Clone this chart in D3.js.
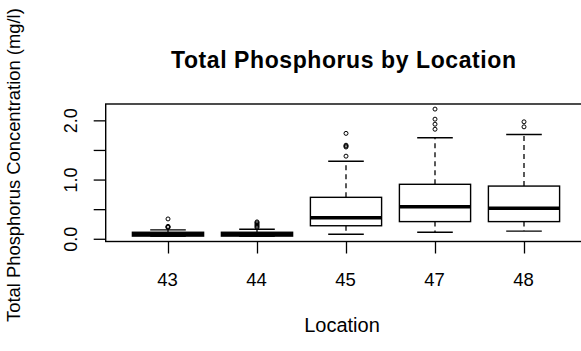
<!DOCTYPE html>
<html>
<head>
<meta charset="utf-8">
<script src="https://cdn.jsdelivr.net/npm/d3@7"></script>
<style>
  html, body { margin: 0; padding: 0; background: #fff; }
  svg { display: block; }
  text { font-family: "Liberation Sans", Arial, sans-serif; fill: #000; }
</style>
</head>
<body>
<svg id="chart" width="581" height="351"></svg>
<script>
// Box-plot summary per sampling location (mg/l)
const locations    = ["43", "44", "45", "47", "48"];
const lowerWhisker = [0.04, 0.04, 0.076, 0.11, 0.13];
const q1           = [0.045, 0.045, 0.22, 0.29, 0.29];
const median       = [0.075, 0.075, 0.355, 0.54, 0.515];
const q3           = [0.11, 0.11, 0.70, 0.92, 0.89];
const upperWhisker = [0.15, 0.16, 1.31, 1.705, 1.76];
const outliers     = [
  [0.19, 0.20, 0.21, 0.335],
  [0.19, 0.21, 0.23, 0.25, 0.27, 0.285],
  [1.395, 1.55, 1.565, 1.58, 1.78],
  [1.85, 1.935, 2.02, 2.19],
  [1.89, 1.975]
];
const yTicks      = [0, 0.5, 1.0, 1.5, 2.0];
const yTickLabels = ["0.0", "", "1.0", "", "2.0"];

const chartTitle = "Total Phosphorus by Location";
const xTitle = "Location";
const yTitle = "Total Phosphorus Concentration (mg/l)";

const svg = d3.select("#chart");
const plot = { left: 105.7, right: 586.3, top: 104, bottom: 241.5 };

// R-style axis extents: groups at 1..n, limits 0.5..n+0.5 padded by 4%
const n = locations.length;
const xPad = 0.04 * n;
const x = d3.scaleLinear()
  .domain([0.5 - xPad, n + 0.5 + xPad])
  .range([plot.left, plot.right]);

const allVals = lowerWhisker.concat(upperWhisker, outliers.flat());
const yMin = d3.min(allVals), yMax = d3.max(allVals);
const yPad = 0.04 * (yMax - yMin);
const y = d3.scaleLinear()
  .domain([yMin - yPad, yMax + yPad])
  .range([plot.bottom, plot.top]);

const boxHalf = 0.4;     // half box width in group units
const stapleHalf = 0.2;  // half whisker-cap width

const g = svg.append("g");

locations.forEach((loc, i) => {
  const cx = x(i + 1);
  const grp = g.append("g").attr("class", "box");

  // dashed whiskers
  [[q3[i], upperWhisker[i]], [q1[i], lowerWhisker[i]]].forEach(([a, b]) => {
    grp.append("line")
      .attr("x1", cx).attr("x2", cx)
      .attr("y1", y(a)).attr("y2", y(b))
      .attr("stroke", "#000").attr("stroke-width", 1.3)
      .attr("stroke-dasharray", "5,4");
  });
  // whisker caps
  [upperWhisker[i], lowerWhisker[i]].forEach(v => {
    grp.append("line")
      .attr("x1", x(i + 1 - stapleHalf)).attr("x2", x(i + 1 + stapleHalf))
      .attr("y1", y(v)).attr("y2", y(v))
      .attr("stroke", "#000").attr("stroke-width", 1.4);
  });
  // box
  grp.append("rect")
    .attr("x", x(i + 1 - boxHalf))
    .attr("y", y(q3[i]))
    .attr("width", x(i + 1 + boxHalf) - x(i + 1 - boxHalf))
    .attr("height", y(q1[i]) - y(q3[i]))
    .attr("fill", "#fff")
    .attr("stroke", "#000").attr("stroke-width", 1.4);
  // median
  grp.append("line")
    .attr("x1", x(i + 1 - boxHalf)).attr("x2", x(i + 1 + boxHalf))
    .attr("y1", y(median[i])).attr("y2", y(median[i]))
    .attr("stroke", "#000").attr("stroke-width", 3.5);
  // outliers
  grp.selectAll("circle")
    .data(outliers[i])
    .join("circle")
    .attr("cx", cx)
    .attr("cy", d => y(d))
    .attr("r", 2)
    .attr("fill", "none")
    .attr("stroke", "#000").attr("stroke-width", 1);
});

// plot frame
svg.append("rect")
  .attr("x", plot.left).attr("y", plot.top)
  .attr("width", plot.right - plot.left)
  .attr("height", plot.bottom - plot.top)
  .attr("fill", "none").attr("stroke", "#000").attr("stroke-width", 1.4);

// x axis
const xAxis = d3.axisBottom(x)
  .tickValues(d3.range(1, n + 1))
  .tickFormat(d => locations[d - 1])
  .tickSize(12).tickPadding(20);
const xg = svg.append("g")
  .attr("transform", `translate(0,${plot.bottom})`)
  .call(xAxis);
xg.select(".domain").remove();
xg.selectAll(".tick line").attr("stroke", "#000").attr("stroke-width", 1.3);
xg.selectAll(".tick text")
  .attr("font-size", 18.5).attr("font-family", "Liberation Sans, Arial, sans-serif")
  .attr("dy", null).attr("y", 285.7 - plot.bottom)
  .attr("dx", -1);

// y axis
const yAxis = d3.axisLeft(y)
  .tickValues(yTicks)
  .tickFormat((d, i) => yTickLabels[i])
  .tickSize(12);
const yg = svg.append("g")
  .attr("transform", `translate(${plot.left},0)`)
  .call(yAxis);
yg.select(".domain").remove();
yg.selectAll(".tick line").attr("stroke", "#000").attr("stroke-width", 1.3);
yg.selectAll(".tick text")
  .attr("font-size", 18).attr("font-family", "Liberation Sans, Arial, sans-serif")
  .attr("x", null).attr("dy", null)
  .attr("text-anchor", "middle")
  .attr("transform", `translate(${77 - plot.left},0) rotate(-90)`);

// titles
svg.append("text")
  .attr("x", 343.5).attr("y", 68.3)
  .attr("text-anchor", "middle")
  .attr("font-size", 23).attr("font-weight", "bold")
  .attr("textLength", 345).attr("lengthAdjust", "spacing")
  .text(chartTitle);

svg.append("text")
  .attr("x", 342).attr("y", 332)
  .attr("text-anchor", "middle")
  .attr("font-size", 20)
  .text(xTitle);

svg.append("text")
  .attr("transform", "translate(20,322) rotate(-90)")
  .attr("text-anchor", "start")
  .attr("font-size", 18.4)
  .text(yTitle);
</script>
</body>
</html>
